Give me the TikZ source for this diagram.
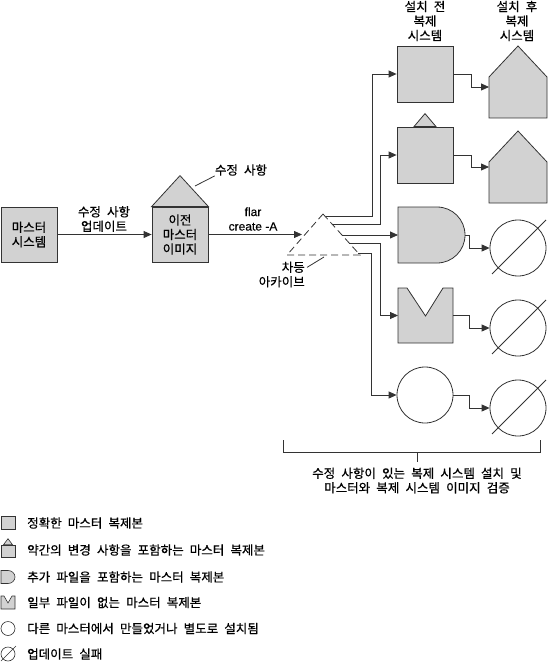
\documentclass[tikz,border=0pt]{standalone}
\usepackage{fontspec}
\setmainfont[WordSpace=2.2, FakeBold=0.6]{Noto Sans CJK KR}
\newfontfamily\latfont[FakeBold=0.4]{Liberation Sans}
\usetikzlibrary{arrows.meta,calc}
\begin{document}
\begin{tikzpicture}[x=1pt,y=-1pt,
  shp/.style={draw=black!80, fill=gray!35, line width=0.8pt},
  ln/.style={draw=black!80, line width=0.8pt},
  arr/.style={ln, -{Triangle[length=8pt,width=7pt]}},
  txt/.style={font=\fontsize{12.5}{14.5}\selectfont, align=center, inner sep=0pt},
  lgd/.style={font=\fontsize{12.5}{14}\selectfont, anchor=west, inner sep=0pt},
  circ/.style={draw=black!80, line width=0.8pt, fill=white, circle, minimum size=56, inner sep=0pt},
  hold/.style={inner sep=0pt, outer sep=0pt}
]
\useasboundingbox (0,0) rectangle (550,663);

% master system and old master image
\node[shp, txt, minimum width=56, minimum height=55] (ms) at (29,234.5) {마스터\\시스템};
\node[shp, txt, minimum width=56, minimum height=55] (om) at (180,234.5) {이전\\마스터\\이미지};
\filldraw[shp] (om.north west) -- ($(om.north)+(0,-31)$) -- (om.north east) -- cycle;
\node[txt] (rl) at (241,170) {수정 사항};
\coordinate (rp) at (195,186);
\draw[ln] (rp) -- (rl.south west);

\draw[arr] (ms.east) -- (om.west);
\node[txt] (lu) at (104,219) {수정 사항\\업데이트};

% differential archive
\coordinate (ta) at (323,214);
\coordinate (tb) at (287,255);
\coordinate (tc) at (360,255);
\draw[ln, dash pattern=on 7pt off 4pt] (ta) -- (tc) -- (tb) -- cycle;
\coordinate (tin) at ($(tb)!0.5!(ta)$);
\draw[arr] (om.east) -- ([xshift=-3pt]tin);
\node[txt, font=\latfont\fontsize{12}{14.5}\selectfont] (fl) at (253,219) {flar\\create -A};
\node[txt, align=right, anchor=east] (da) at (305,274.5) {차등\\아카이브};
\coordinate (dl) at (324,257);
\draw[ln] ($(da.north east)+(2,6)$) -- (dl);

\coordinate (e1) at ($(ta)!0.07!(tc)$);
\coordinate (e2) at ($(ta)!0.244!(tc)$);
\coordinate (e3) at ($(ta)!0.512!(tc)$);
\coordinate (e4) at ($(ta)!0.707!(tc)$);
\coordinate (e5) at ($(ta)!0.95!(tc)$);

% column 1: before
\node[shp, minimum size=56, inner sep=0pt] (b1) at (425,74) {};
\node[shp, minimum size=56, inner sep=0pt] (b2) at (425,155) {};
\filldraw[shp] ($(b2.north)+(-11,0)$) -- ++(11,-13) -- ++(11,13) -- cycle;
\node[hold, minimum width=67, minimum height=56] (d) at (431.5,235) {};
\filldraw[shp] (d.north west) -- (437,207) .. controls (452.5,207) and (465,219.5) .. (d.east)
  .. controls (465,250.5) and (452.5,263) .. (437,263) -- (d.south west) -- cycle;
\node[hold, minimum size=55] (m) at (425.5,315.5) {};
\filldraw[shp] (m.north west) -- ++(9,0) -- ($(m.north)+(0,28)$) -- ($(m.north east)+(-10,0)$)
  -- (m.north east) -- (m.south east) -- (m.south west) -- cycle;
\node[circ] (c) at (425,395) {};

\draw[arr] (e1) -| ([xshift=-24pt]b1.west) -- (b1.west);
\draw[arr] (e2) -| ([xshift=-16pt]b2.west) -- (b2.west);
\draw[arr] (e3) -- (e3 -| d.west);
\draw[arr] (e4) -| ([xshift=-18pt]m.west) -- (m.west);
\draw[arr] (e5) -| ([xshift=-25pt]c.west) -- (c.west);

% column 2: after
\node[hold, minimum width=58, minimum height=72] (h1) at (518,82) {};
\filldraw[shp] (h1.north) -- ($(h1.north east)+(0,31)$) -- (h1.south east) -- (h1.south west)
  -- ($(h1.north west)+(0,31)$) -- cycle;
\node[hold, minimum width=58, minimum height=72] (h2) at (518,167) {};
\filldraw[shp] (h2.north) -- ($(h2.north east)+(0,31)$) -- (h2.south east) -- (h2.south west)
  -- ($(h2.north west)+(0,31)$) -- cycle;
\node[circ] (x1) at (518,248) {};
\node[circ] (x2) at (518,328) {};
\node[circ] (x3) at (518,408) {};
\foreach \n in {x1,x2,x3}
  \draw[ln] ($(\n.center)+(-26,26)$) -- ($(\n.center)+(28,-28)$);

\coordinate (h1in) at ($(h1.west)+(0,5)$);
\coordinate (h2in) at ($(h2.west)+(0,0)$);
\draw[arr] (b1.east) -| ($(h1in)+(-18,0)$) -- (h1in);
\draw[arr] (b2.east) -| ($(h2in)+(-18,0)$) -- (h2in);
\draw[arr] (d.east) -| ($(x1.west)+(-20,0)$) -- (x1.west);
\draw[arr] (m.east) -| ($(x2.west)+(-20,0)$) -- (x2.west);
\draw[arr] (c.east) -| ($(x3.west)+(-20,0)$) -- (x3.west);

% column headings
\node[txt] (t1) at (425,21) {설치 전\\복제\\시스템};
\node[txt] (t2) at (517,21) {설치 후\\복제\\시스템};

% bracket
\coordinate (bl) at (283,440);
\coordinate (br) at (540,440);
\coordinate (bm) at (417,452);
\coordinate (bt) at (417,462);
\draw[ln] (bl) -- (bl |- bm) -- (br |- bm) -- (br);
\draw[ln] (bm) -- (bt);
\node[txt] (bx) at (417,480.5) {수정 사항이 있는 복제 시스템 설치 및\\마스터와 복제 시스템 이미지 검증};

% legend
\node[shp, line width=0.6pt, minimum width=14, minimum height=13, inner sep=0pt] (i1) at (8,523) {};
\node[lgd] (l1) at (27,523) {정확한 마스터 복제본};

\node[shp, line width=0.6pt, minimum width=14, minimum height=12, inner sep=0pt] (i2) at (8,551) {};
\filldraw[shp, line width=0.6pt] ($(i2.north)+(-4.5,0)$) -- ++(4.5,-6) -- ++(4.5,6) -- cycle;
\node[lgd] (l2) at (27,550) {약간의 변경 사항을 포함하는 마스터 복제본};

\node[hold, minimum width=14, minimum height=13] (i3) at (8,577) {};
\filldraw[shp, line width=0.6pt] (i3.north west) -- ++(7,0) arc[start angle=90, end angle=-90, x radius=7pt, y radius=6.5pt] -- (i3.south west) -- cycle;
\node[lgd] (l3) at (27,577) {추가 파일을 포함하는 마스터 복제본};

\node[hold, minimum width=14, minimum height=13] (i4) at (8,602.5) {};
\filldraw[shp, line width=0.6pt] (i4.north west) -- ++(3,0) -- ($(i4.north)+(0,7)$) -- ($(i4.north east)+(-3,0)$)
  -- (i4.north east) -- (i4.south east) -- (i4.south west) -- cycle;
\node[lgd] (l4) at (27,602.5) {일부 파일이 없는 마스터 복제본};

\node[circ, line width=0.6pt, minimum size=14] (i5) at (8,628.5) {};
\node[lgd] (l5) at (27,628.5) {다른 마스터에서 만들었거나 별도로 설치됨};

\node[circ, line width=0.6pt, minimum size=14] (i6) at (8,654) {};
\draw[ln, line width=0.6pt] ($(i6.center)+(-7,7)$) -- ($(i6.center)+(8,-8)$);
\node[lgd] (l6) at (27,654) {업데이트 실패};
\end{tikzpicture}
\end{document}
